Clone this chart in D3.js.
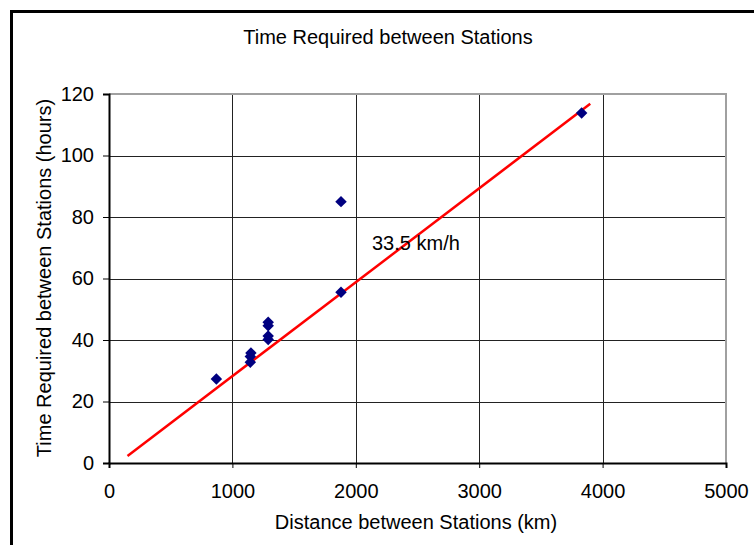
<!DOCTYPE html>
<html>
<head>
<meta charset="utf-8">
<script src="https://cdn.jsdelivr.net/npm/d3@7"></script>
<style>
  body { margin: 0; background: #fff; }
  svg text { font-family: "Liberation Sans", Arial, sans-serif; fill: #000; }
</style>
</head>
<body>
<div id="chart"></div>
<script>
// distances (km) and time (hours) between stations
var distances = [870, 1145, 1145, 1150, 1290, 1290, 1290, 1290, 1880, 1880, 3830];
var hours     = [27.3, 32.8, 34.6, 35.8, 40.2, 41.3, 44.6, 45.8, 55.5, 85.0, 113.8];

// fitted line end points
var fitX = [150, 3900];
var fitY = [2.3, 116.8];
var fitLabel = "33.5 km/h";

var xTicks = [0, 1000, 2000, 3000, 4000, 5000];
var yTicks = [0, 20, 40, 60, 80, 100, 120];

var chartTitle = "Time Required between Stations",
    xTitle = "Distance between Stations (km)",
    yTitle = "Time Required between Stations (hours)";

var width = 754, height = 545,
    fontSize = "20px";

var svg = d3.select("#chart").append("svg")
    .attr("width", width)
    .attr("height", height);

// outer frame (runs off the right and bottom edges)
svg.append("rect")
    .attr("x", 11.5).attr("y", 11.5)
    .attr("width", width + 20).attr("height", height + 20)
    .attr("fill", "none")
    .attr("stroke", "#000")
    .attr("stroke-width", 3);

var x = d3.scaleLinear().domain([0, 5000]).range([109, 726]);
var y = d3.scaleLinear().domain([0, 120]).range([463, 94]);

var plot = svg.append("g");

// grid
plot.selectAll(".hgrid")
    .data(yTicks.slice(1, -1))
    .enter().append("line")
        .attr("x1", x(0)).attr("x2", x(5000))
        .attr("y1", function(d){ return Math.round(y(d)) + 0.5; })
        .attr("y2", function(d){ return Math.round(y(d)) + 0.5; })
        .attr("stroke", "#222");
plot.selectAll(".vgrid")
    .data(xTicks.slice(1, -1))
    .enter().append("line")
        .attr("y1", y(0)).attr("y2", y(120))
        .attr("x1", function(d){ return Math.round(x(d)) + 0.5; })
        .attr("x2", function(d){ return Math.round(x(d)) + 0.5; })
        .attr("stroke", "#222");

// top / right border of plot area
plot.append("path")
    .attr("d", "M" + x(0) + "," + y(120) + "H" + x(5000) + "V" + y(0))
    .attr("fill", "none")
    .attr("stroke", "#a0a0a0")
    .attr("stroke-width", 2);

// axes
var xAxis = d3.axisBottom(x).tickValues(xTicks).tickFormat(d3.format("d"))
    .tickSizeOuter(0).tickSize(5).tickPadding(16);
var yAxis = d3.axisLeft(y).tickValues(yTicks).tickFormat(d3.format("d"))
    .tickSizeOuter(0).tickSize(6).tickPadding(9);

svg.append("g")
    .attr("transform", "translate(0," + y(0) + ")")
    .call(xAxis)
    .call(function(g){
        g.select(".domain").attr("stroke", "#000").attr("stroke-width", 2);
        g.selectAll("line").attr("stroke", "#000");
        g.selectAll("text").style("font-size", fontSize).attr("fill", "#000");
    });

svg.append("g")
    .attr("transform", "translate(" + x(0) + ",0)")
    .call(yAxis)
    .call(function(g){
        g.select(".domain").attr("stroke", "#000").attr("stroke-width", 2);
        g.selectAll("line").attr("stroke", "#000");
        g.selectAll("text").style("font-size", fontSize).attr("fill", "#000");
    });

// fitted line
plot.append("line")
    .attr("x1", x(fitX[0])).attr("y1", y(fitY[0]))
    .attr("x2", x(fitX[1])).attr("y2", y(fitY[1]))
    .attr("stroke", "#ff0000")
    .attr("stroke-width", 2.5);

// points
var diamond = d3.symbol().type(d3.symbolSquare).size(66);
plot.selectAll(".pt")
    .data(distances.map(function(d, i){ return [d, hours[i]]; }))
    .enter().append("path")
        .attr("d", diamond)
        .attr("transform", function(d){ return "translate(" + x(d[0]) + "," + y(d[1]) + ") rotate(45)"; })
        .attr("fill", "#000080");

svg.append("text")
    .attr("x", 372).attr("y", 250)
    .style("font-size", fontSize)
    .text(fitLabel);

// titles
svg.append("text")
    .attr("x", 388).attr("y", 44)
    .attr("text-anchor", "middle")
    .style("font-size", fontSize)
    .text(chartTitle);

svg.append("text")
    .attr("x", 416).attr("y", 529)
    .attr("text-anchor", "middle")
    .style("font-size", fontSize)
    .text(xTitle);

svg.append("text")
    .attr("transform", "translate(51,278) rotate(-90)")
    .attr("text-anchor", "middle")
    .style("font-size", fontSize)
    .text(yTitle);
</script>
</body>
</html>
